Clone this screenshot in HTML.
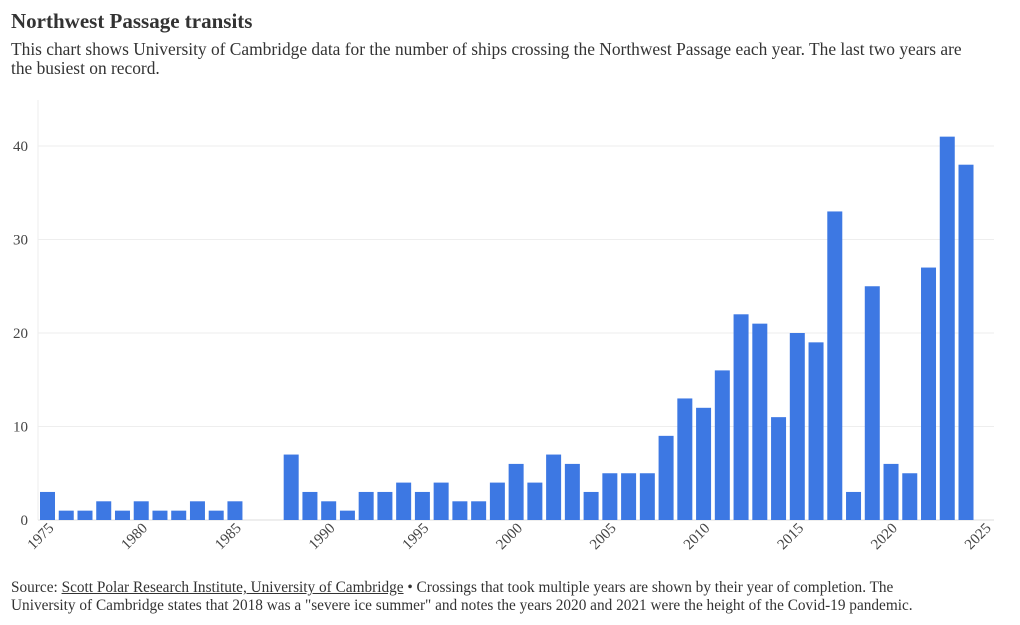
<!DOCTYPE html>
<html><head><meta charset="utf-8"><style>
body{margin:0;background:#fff;font-family:"Liberation Serif",serif;color:#333;width:1020px;height:625px;overflow:hidden;position:relative}
h1{position:absolute;left:11px;top:9px;margin:0;font-size:21px;font-weight:bold;color:#333}
.sub{position:absolute;left:11px;top:40px;width:972px;font-size:17.4px;line-height:19px;color:#333}
.src{position:absolute;left:11px;top:579px;width:950px;font-size:15.3px;line-height:18px;color:#333}
.src a{color:#333;text-decoration:underline}
</style></head><body>
<h1>Northwest Passage transits</h1>
<div class="sub">This chart shows University of Cambridge data for the number of ships crossing the Northwest Passage each year. The last two years are the busiest on record.</div>
<svg id="chart" width="1020" height="625" style="position:absolute;left:0;top:0"></svg>
<div class="src">Source: <a>Scott Polar Research Institute, University of Cambridge</a> • Crossings that took multiple years are shown by their year of completion. The University of Cambridge states that 2018 was a "severe ice summer" and notes the years 2020 and 2021 were the height of the Covid-19 pandemic.</div>
<script>
const years=[1975,1976,1977,1978,1979,1980,1981,1982,1983,1984,1985,1986,1987,1988,1989,1990,1991,1992,1993,1994,1995,1996,1997,1998,1999,2000,2001,2002,2003,2004,2005,2006,2007,2008,2009,2010,2011,2012,2013,2014,2015,2016,2017,2018,2019,2020,2021,2022,2023,2024];
const transits=[3,1,1,2,1,2,1,1,2,1,2,0,0,7,3,2,1,3,3,4,3,4,2,2,4,6,4,7,6,3,5,5,5,9,13,12,16,22,21,11,20,19,33,3,25,6,5,27,41,38];
const yTicks=[0,10,20,30,40];
const xTicks=[1975,1980,1985,1990,1995,2000,2005,2010,2015,2020,2025];
const NS='http://www.w3.org/2000/svg',svg=document.getElementById('chart');
const x=y=>47.5+(y-1975)*18.745;
const yS=v=>520-v*9.35;
function mk(t,a){const e=document.createElementNS(NS,t);for(const k in a)e.setAttribute(k,a[k]);svg.appendChild(e);return e;}
yTicks.forEach(v=>{
  const g=mk('line',{x1:38,x2:994,y1:yS(v),y2:yS(v),stroke:v===0?'#ddd':'#eee','stroke-width':1});
  
  
  const t=mk('text',{x:28,y:yS(v)+5,'text-anchor':'end','font-size':15,fill:'#444','font-family':'Liberation Serif, serif'});
  t.textContent=v;
  
  
});
const ax=mk('line',{x1:38,x2:38,y1:100,y2:520,stroke:'#eee'});


years.forEach((yr,i)=>{
  if(!transits[i])return;
  const r=mk('rect',{x:x(yr)-7.5,y:yS(transits[i]),width:15,height:transits[i]*9.35,fill:'#3d78e3'});
  
  
});
xTicks.forEach(yr=>{
  const px=x(yr)+7,py=529;
  const t=mk('text',{x:px,y:py,'text-anchor':'end','font-size':15,fill:'#444','font-family':'Liberation Serif, serif',transform:`rotate(-45 ${px} ${py})`});
  t.textContent=yr;
  
  
});
</script>
</body></html>
